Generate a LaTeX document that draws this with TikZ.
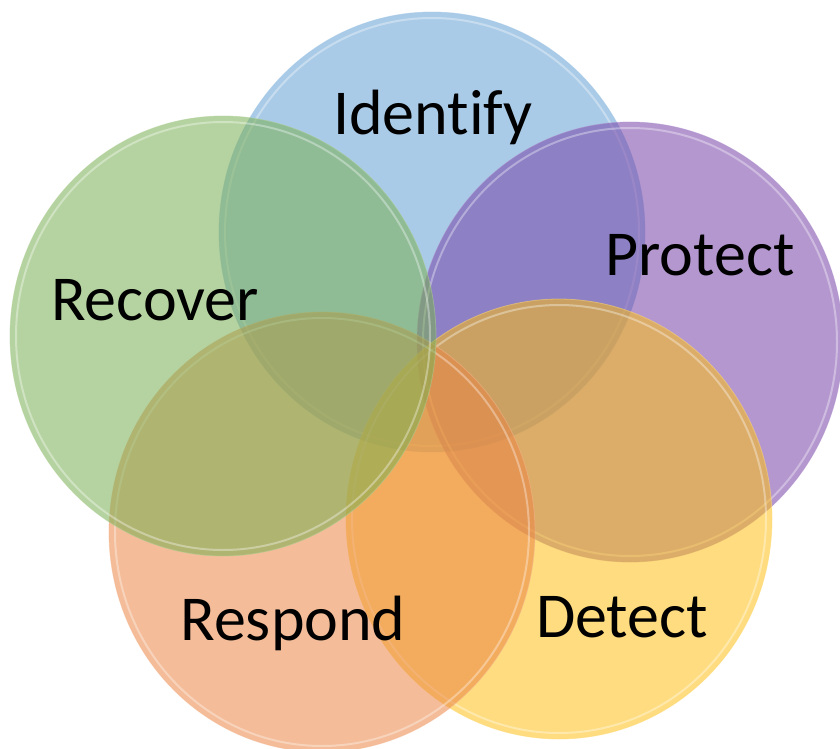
\documentclass[tikz,border=0pt]{standalone}
\usepackage{fontspec}
\setmainfont{Carlito}[Ligatures=NoCommon]
\usetikzlibrary{shapes.geometric}
\definecolor{idblue}{RGB}{99,160,211}
\definecolor{prpurple}{RGB}{119,66,168}
\definecolor{deyellow}{RGB}{253,191,21}
\definecolor{reorange}{RGB}{235,133,68}
\definecolor{rcgreen}{RGB}{121,175,82}

\begin{document}
\begin{tikzpicture}[x=1pt, y=-1pt,
circlenode/.style={ellipse, minimum width=426pt, minimum height=440pt, fill=#1, fill opacity=0.55, draw=#1!60!white, draw opacity=0.5, line width=0.8pt},
rimline/.style={draw=white, draw opacity=0.35, line width=2pt},
wordnode/.style={anchor=base, font=\fontsize{64}{77}\selectfont, text=black},
]
\useasboundingbox (0,0) rectangle (840,749);
%Circles
\node[circlenode=idblue]    (identify) at (432,232) {};
\draw[rimline] (identify.center) ellipse [x radius=207, y radius=214];
\node[circlenode=prpurple]  (protect)  at (630,342) {};
\draw[rimline] (protect.center) ellipse [x radius=207, y radius=214];
\node[circlenode=deyellow]  (detect)   at (559,519) {};
\draw[rimline] (detect.center) ellipse [x radius=207, y radius=214];
\node[circlenode=reorange]  (respond)  at (322,532) {};
\draw[rimline] (respond.center) ellipse [x radius=207, y radius=214];
\node[circlenode=rcgreen]   (recover)  at (223,336) {};
\draw[rimline] (recover.center) ellipse [x radius=207, y radius=214];

%Labels
\node[wordnode] (identifytxt) at (433,135) {Identify};
\node[wordnode] (protecttxt)  at (700,275) {Protect};
\node[wordnode] (detecttxt)   at (622,637) {Detect};
\node[wordnode] (respondtxt)  at (293,640) {Respond};
\node[wordnode] (recovertxt)  at (155,320) {Recover};
\end{tikzpicture}
\end{document}
